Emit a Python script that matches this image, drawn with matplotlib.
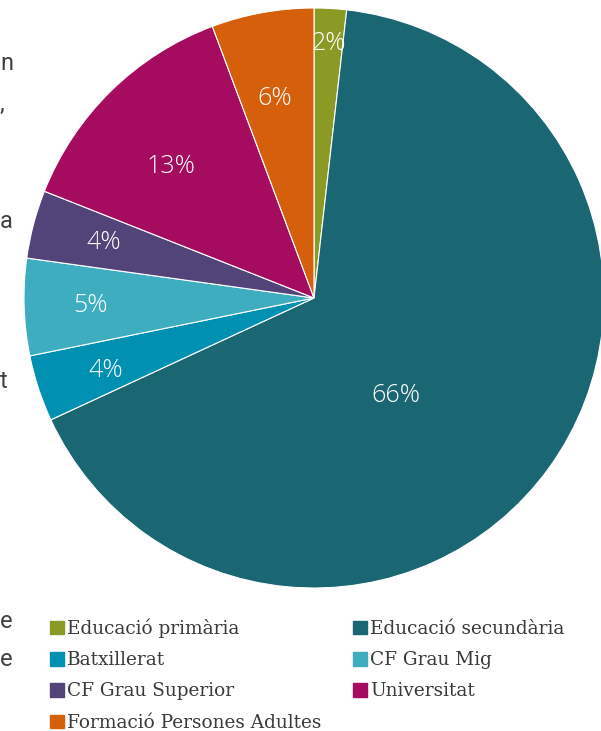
import numpy as np
import matplotlib.pyplot as plt

# shares of people by educational level (%)
categories = ['Educació primària', 'Educació secundària', 'Batxillerat',
              'CF Grau Mig', 'CF Grau Superior', 'Universitat',
              'Formació Persones Adultes']
values = [1.8, 66.3, 3.7, 5.4, 3.8, 13.3, 5.7]
colors = ['#8a9a24', '#1b6673', '#0090b2', '#3eadc0', '#524479', '#a50b5e', '#d55f0a']

# label radius / angle shift (Excel "best fit" look)
lab_dist = [0.88, 0.44, 0.76, 0.77, 0.75, 0.67, 0.70]
lab_shift = [0, -14, 1, 0, 0, 3, 1]

# text fragments on the left edge of the original slide
edge_chars = ['n', ',', 'a', 't', 'e', 'e']
edge_y = [63, 104, 221, 382, 622, 660]

W, H = 601, 731
fig = plt.figure(figsize=(W / 100, H / 100), dpi=100)
ax = fig.add_axes([24 / W, 143 / H, 580 / W, 580 / H])

wedges, _ = ax.pie(values, colors=colors, startangle=90, counterclock=False,
                   radius=1, wedgeprops=dict(edgecolor='white', linewidth=0.8))
ax.set_xlim(-1, 1)
ax.set_ylim(-1, 1)
ax.set_aspect('equal')
ax.axis('off')

for w, v, d, s in zip(wedges, values, lab_dist, lab_shift):
    ang = np.deg2rad((w.theta1 + w.theta2) / 2 + s)
    ax.text(d * np.cos(ang), d * np.sin(ang), '%.0f%%' % v, ha='center', va='center',
            color='white', fontsize=18, family='Open Sans', fontweight='light')

# row-wise legend order (matplotlib fills columns first)
order = [0, 2, 4, 6, 1, 3, 5]
handles = [plt.Rectangle((0, 0), 1, 1, color=colors[i]) for i in order]
labels = [categories[i] for i in order]
fig.legend(handles, labels, loc='upper left', bbox_to_anchor=(43 / W, 1 - 611 / H),
           ncol=2, frameon=False, handlelength=0.75, handleheight=0.75, handletextpad=0.15,
           columnspacing=1.72, labelspacing=0.72, borderaxespad=0,
           prop=dict(family='DejaVu Serif', size=13.3), labelcolor='#3a3a3a')

for ch, y in zip(edge_chars, edge_y):
    fig.text(0, 1 - y / H, ch, ha='left', va='center', color='#404040',
             fontsize=17, family='Roboto')

fig.savefig('out.png', dpi=100)
